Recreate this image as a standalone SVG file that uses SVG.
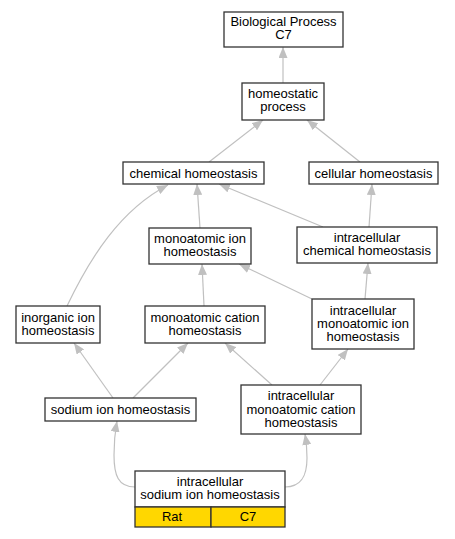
<svg xmlns="http://www.w3.org/2000/svg" width="455" height="539" viewBox="0 0 455 539">
<style>
.n rect{fill:#fff;stroke:#333;stroke-width:1.3}
.n text{font-family:"Liberation Sans",Arial,sans-serif;font-size:13px;fill:#000;text-anchor:middle}
.e path{fill:none;stroke:#c0c0c0;stroke-width:1.2}
.y{fill:#ffd700 !important}
</style>
<defs>
<marker id="a" viewBox="0 0 11 9" refX="11" refY="4.5" markerWidth="11" markerHeight="9" markerUnits="userSpaceOnUse" orient="auto">
<path d="M0,0L11,4.5L0,9Z" fill="#c0c0c0"/>
</marker>
</defs>
<rect width="455" height="539" fill="#fff"/>
<g class="e">
<path d="M283,83L283,47" marker-end="url(#a)"/>
<path d="M209,162L263,120" marker-end="url(#a)"/>
<path d="M360,162L307,120" marker-end="url(#a)"/>
<path d="M200,228L197,184" marker-end="url(#a)"/>
<path d="M323,227L219,184" marker-end="url(#a)"/>
<path d="M369,227L372,184" marker-end="url(#a)"/>
<path d="M67,306C90,258 120,210 168,185" marker-end="url(#a)"/>
<path d="M204,306L202,264" marker-end="url(#a)"/>
<path d="M312,299L239,264" marker-end="url(#a)"/>
<path d="M365,299L368,263" marker-end="url(#a)"/>
<path d="M113,398L74,343" marker-end="url(#a)"/>
<path d="M133,398L188,343" marker-end="url(#a)"/>
<path d="M272,385L225,343" marker-end="url(#a)"/>
<path d="M320,385L348,349" marker-end="url(#a)"/>
<path d="M135,487C118,487 114,475 114,455C114,440 115,432 117,421" marker-end="url(#a)"/>
<path d="M285,487C302,487 307,475 307,458C307,447 306,440 305,434" marker-end="url(#a)"/>
</g>
<g id="bp" class="n"><rect x="224" y="12" width="119" height="35"/><text x="283.5" y="26">Biological Process</text><text x="283.5" y="39">C7</text></g>
<g id="homeo" class="n"><rect x="242" y="83" width="82" height="37"/><text x="283" y="98">homeostatic</text><text x="283" y="111">process</text></g>
<g id="chem" class="n"><rect x="123" y="162" width="141" height="22"/><text x="193.5" y="177.5">chemical homeostasis</text></g>
<g id="cell" class="n"><rect x="309" y="162" width="129" height="22"/><text x="373.5" y="177.5">cellular homeostasis</text></g>
<g id="monoion" class="n"><rect x="149" y="228" width="102" height="36"/><text x="200" y="242.5">monoatomic ion</text><text x="200" y="255.5">homeostasis</text></g>
<g id="icchem" class="n"><rect x="297" y="227" width="140" height="36"/><text x="367" y="242">intracellular</text><text x="367" y="255">chemical homeostasis</text></g>
<g id="inorg" class="n"><rect x="16" y="306" width="84" height="37"/><text x="58" y="321.5">inorganic ion</text><text x="58" y="334.5">homeostasis</text></g>
<g id="monocat" class="n"><rect x="145" y="306" width="120" height="37"/><text x="205" y="321.5">monoatomic cation</text><text x="205" y="334.5">homeostasis</text></g>
<g id="icmonoion" class="n"><rect x="312" y="299" width="102" height="50"/><text x="363" y="314.5">intracellular</text><text x="363" y="327.5">monoatomic ion</text><text x="363" y="340.5">homeostasis</text></g>
<g id="sodium" class="n"><rect x="45" y="398" width="151" height="23"/><text x="120.5" y="414">sodium ion homeostasis</text></g>
<g id="icmonocat" class="n"><rect x="241" y="385" width="120" height="49"/><text x="301" y="399.5">intracellular</text><text x="301" y="413.5">monoatomic cation</text><text x="301" y="426.5">homeostasis</text></g>
<g id="icsodium" class="n"><rect x="135" y="471" width="150" height="36"/><text x="210" y="485.5">intracellular</text><text x="210" y="498.5">sodium ion homeostasis</text>
<rect class="y" x="135" y="507" width="76" height="20"/><rect class="y" x="211" y="507" width="74" height="20"/><text x="172" y="521">Rat</text><text x="248" y="521">C7</text></g>
</svg>
